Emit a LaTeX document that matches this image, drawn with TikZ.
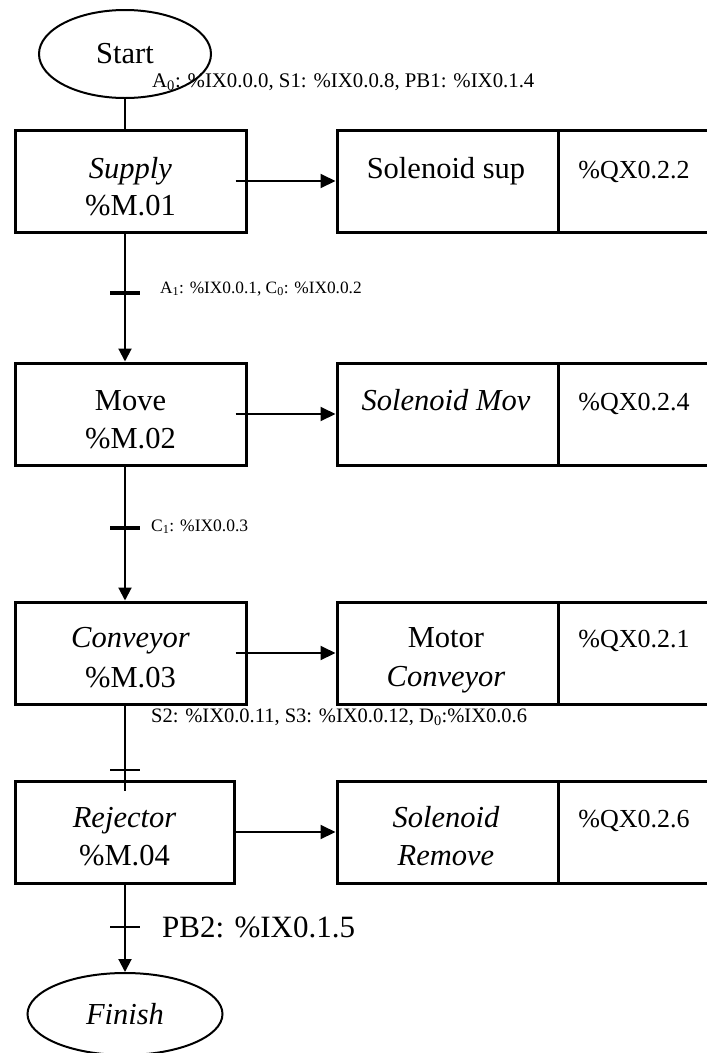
\documentclass[tikz,border=0pt]{standalone}
\usepackage{fontspec}
\setmainfont{Liberation Serif}
\usetikzlibrary{arrows.meta,shapes.geometric}
\begin{document}
\begin{tikzpicture}[x=1pt,y=-1pt,
  stepbox/.style={draw,line width=3pt,minimum height=102pt,inner sep=0pt},
  actbox/.style={draw,line width=3pt,minimum height=102pt,inner sep=0pt},
  term/.style={draw,ellipse,line width=2pt,inner sep=0pt,font=\fontsize{30.5}{36}\selectfont},
  big/.style={inner sep=0pt,anchor=base,font=\fontsize{30.5}{36}\selectfont},
  addr/.style={inner sep=0pt,anchor=base,font=\fontsize{26}{30}\selectfont},
  cond/.style={inner sep=0pt,anchor=base west},
  conn/.style={line width=2pt},
  flow/.style={conn,-{Triangle[length=13pt,width=13pt]}},
  act/.style={conn,-{Triangle[length=15pt,width=14pt]}},
  tbarthick/.style={line width=3.5pt},
  tbarthin/.style={line width=1.5pt},
]
\useasboundingbox (0,0) rectangle (707,1053);

% terminal states
\node[term,minimum width=172pt,minimum height=88pt] (start) at (125,54) {Start};
\node[term,minimum width=195pt,minimum height=82pt] (finish) at (125,1014) {\itshape Finish};

% step 1
\node[stepbox,minimum width=231pt] (s1) at (130.5,181) {};
\node[actbox,minimum width=221pt] (a1) at (447.5,181) {};
\node[actbox,minimum width=158pt] (q1) at (637,181) {};
\node[big] (s1a) at (130.5,178) {\itshape Supply};
\node[big] (s1b) at (130.5,215) {\%M.01};
\node[big] (a1a) at (446,178) {Solenoid sup};
\node[addr] (q1a) at (634,178) {\%QX0.2.2};

% step 2
\node[stepbox,minimum width=231pt] (s2) at (130.5,414) {};
\node[actbox,minimum width=221pt] (a2) at (447.5,414) {};
\node[actbox,minimum width=158pt] (q2) at (637,414) {};
\node[big] (s2a) at (130.5,410) {Move};
\node[big] (s2b) at (130.5,448) {\%M.02};
\node[big] (a2a) at (446,410) {\itshape Solenoid Mov};
\node[addr] (q2a) at (634,410) {\%QX0.2.4};

% step 3
\node[stepbox,minimum width=231pt] (s3) at (130.5,653) {};
\node[actbox,minimum width=221pt] (a3) at (447.5,653) {};
\node[actbox,minimum width=158pt] (q3) at (637,653) {};
\node[big] (s3a) at (130.5,647) {\itshape Conveyor};
\node[big] (s3b) at (130.5,687) {\%M.03};
\node[big] (a3a) at (446,647) {Motor};
\node[big] (a3b) at (446,686) {\itshape Conveyor};
\node[addr] (q3a) at (634,647) {\%QX0.2.1};

% step 4
\node[stepbox,minimum width=219pt] (s4) at (124.5,832) {};
\node[actbox,minimum width=221pt] (a4) at (447.5,832) {};
\node[actbox,minimum width=158pt] (q4) at (637,832) {};
\node[big] (s4a) at (124.5,827) {\itshape Rejector};
\node[big] (s4b) at (124.5,865) {\%M.04};
\node[big] (a4a) at (446,827) {\itshape Solenoid};
\node[big] (a4b) at (446,865) {\itshape Remove};
\node[addr] (q4a) at (634,827) {\%QX0.2.6};

% sequence links
\draw[conn] (start.south) -- (start.south |- s1.north);
\draw[flow] (s1.south -| start.south) -- (s2.north -| start.south);
\draw[flow] (s2.south -| start.south) -- (s3.north -| start.south);
\coordinate (s4in) at ([yshift=-11pt]s4.north);
\draw[conn] (s3.south -| start.south) -- (s4in -| start.south);
\draw[flow] (s4.south -| start.south) -- (finish.north);

% transitions
\coordinate (t1) at (125,293);
\coordinate (t2) at (125,528);
\coordinate (t3) at (125,770);
\coordinate (t4) at (125,927);
\draw[tbarthick] ([xshift=-15pt]t1) -- ([xshift=15pt]t1);
\draw[tbarthick] ([xshift=-15pt]t2) -- ([xshift=15pt]t2);
\draw[tbarthin] ([xshift=-15pt]t3) -- ([xshift=15pt]t3);
\draw[tbarthin] ([xshift=-15pt]t4) -- ([xshift=15pt]t4);

% actions
\draw[act] ([xshift=-12pt]s1.east) -- (a1.west);
\draw[act] ([xshift=-12pt]s2.east) -- (a2.west);
\draw[act] ([xshift=-12pt]s3.east) -- (a3.west);
\draw[act] (s4.east) -- (a4.west);

% transition conditions
\node[cond,font=\fontsize{20.8}{24}\selectfont] (c0) at (152,87)
  {A\textsubscript{0}: \%IX0.0.0, S1: \%IX0.0.8, PB1: \%IX0.1.4};
\node[cond,font=\fontsize{17.3}{21}\selectfont] (c1) at (160,293)
  {A\textsubscript{1}: \%IX0.0.1, C\textsubscript{0}: \%IX0.0.2};
\node[cond,font=\fontsize{17.5}{21}\selectfont] (c2) at (151,531)
  {C\textsubscript{1}: \%IX0.0.3};
\node[cond,font=\fontsize{20.5}{24}\selectfont] (c3) at (151,722)
  {S2: \%IX0.0.11, S3: \%IX0.0.12, D\textsubscript{0}:\%IX0.0.6};
\node[cond,font=\fontsize{31}{36}\selectfont] (c4) at (162,937)
  {PB2: \%IX0.1.5};
\end{tikzpicture}
\end{document}
